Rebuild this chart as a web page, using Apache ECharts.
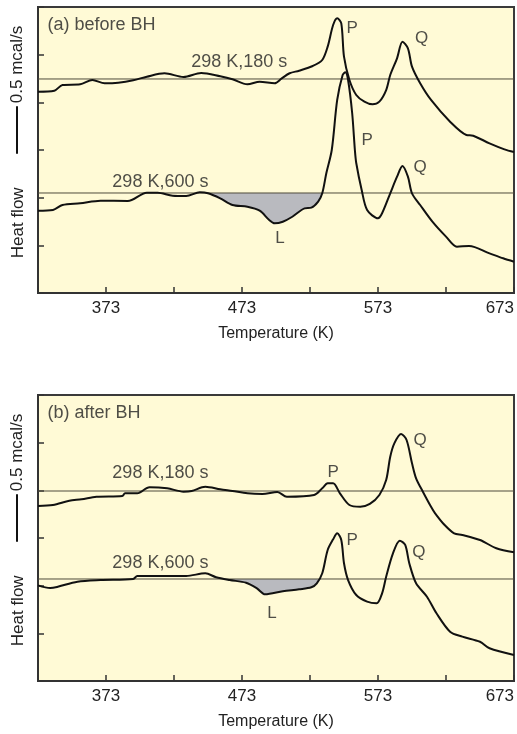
<!DOCTYPE html>
<html>
<head>
<meta charset="utf-8">
<script src="https://cdn.jsdelivr.net/npm/echarts@6/dist/echarts.min.js"></script>
<style>
  html, body { margin: 0; padding: 0; background: #ffffff; }
  #chart { width: 517px; height: 734px; }
</style>
</head>
<body>
<div id="chart"></div>
<script>
// Temperature axis (K)
const TEMP_MIN = 323;
const TEMP_MAX = 673;
const TEMP_STEP = 50;
const tempTickLabels = [373, 473, 573, 673];

// Heat-flow axis, mcal/s (arbitrary offset, one tick = 0.5 mcal/s)
const FLOW_MIN = 0;
const FLOW_MAX = 3;
const FLOW_STEP = 0.5;
const SCALE_BAR = [1.46, 1.96];   // 0.5 mcal/s scale bar

// (a) before BH — [temperature K, heat flow]
const beforeBase180 = 2.245;
const before180 = [
  [323, 2.112], [335, 2.122], [341, 2.182], [354, 2.189], [363, 2.234], [372, 2.200],
  [382, 2.206], [393, 2.231], [403, 2.269], [416, 2.305], [430, 2.266], [443, 2.308],
  [457, 2.273], [466, 2.242], [477, 2.189], [486, 2.217], [497, 2.200], [502, 2.248],
  [508, 2.305], [515, 2.332], [525, 2.381], [532, 2.444], [536, 2.584], [540, 2.811],
  [543, 2.882], [546, 2.829], [548, 2.479], [552, 2.234], [557, 2.077], [563, 2.007],
  [569, 1.979], [574, 2.007], [579, 2.129], [582, 2.287], [587, 2.462], [591, 2.636],
  [595, 2.567], [598, 2.374], [604, 2.200], [612, 2.025], [626, 1.797], [638, 1.657],
  [643, 1.650], [655, 1.570], [666, 1.507], [673, 1.479]
];
const beforeBase600 = 1.049;
const before600 = [
  [323, 0.863], [334, 0.871], [341, 0.923], [354, 0.941], [369, 0.968], [389, 0.965],
  [403, 1.052], [411, 1.052], [422, 1.021], [432, 1.018], [442, 1.056], [448, 1.046],
  [457, 0.993], [466, 0.923], [477, 0.905], [486, 0.863], [493, 0.766], [497, 0.731],
  [503, 0.748], [510, 0.800], [519, 0.888], [524, 0.895], [529, 0.958], [532, 1.046],
  [535, 1.256], [539, 1.500], [543, 2.025], [547, 2.287], [549, 2.315], [551, 2.234],
  [554, 1.888], [556, 1.500], [557, 1.364], [561, 1.080], [565, 0.871], [573, 0.784],
  [576, 0.836], [582, 1.046], [587, 1.220], [591, 1.332], [595, 1.220], [598, 1.046],
  [604, 0.923], [613, 0.748], [623, 0.591], [631, 0.486], [640, 0.493], [655, 0.416],
  [665, 0.364], [673, 0.328]
];
const beforeDip = [447, 532];

// (b) after BH
const afterBase180 = 1.993;
const after180 = [
  [323, 1.836], [334, 1.846], [346, 1.891], [355, 1.906], [366, 1.933], [385, 1.941],
  [387, 1.969], [396, 1.969], [405, 2.032], [418, 2.021], [430, 1.986], [436, 1.993],
  [446, 2.038], [457, 2.011], [466, 1.993], [477, 1.969], [488, 1.962], [499, 1.983],
  [506, 1.933], [526, 1.951], [532, 2.021], [536, 2.074], [540, 2.074], [545, 1.969],
  [552, 1.846], [560, 1.828], [567, 1.857], [574, 1.951], [579, 2.108], [582, 2.353],
  [585, 2.493], [590, 2.591], [594, 2.528], [598, 2.284], [601, 2.126], [606, 1.986],
  [612, 1.828], [615, 1.759], [622, 1.636], [629, 1.549], [635, 1.532], [648, 1.479],
  [660, 1.392], [673, 1.350]
];
const afterBase600 = 1.070;
const after600 = [
  [323, 1.003], [332, 0.975], [337, 0.986], [352, 1.042], [369, 1.059], [393, 1.070],
  [396, 1.101], [418, 1.101], [432, 1.101], [446, 1.130], [454, 1.088], [464, 1.059],
  [476, 1.031], [484, 0.972], [490, 0.909], [503, 0.941], [515, 0.962], [524, 0.983],
  [528, 1.025], [532, 1.130], [536, 1.374], [540, 1.486], [543, 1.549], [546, 1.479],
  [548, 1.235], [551, 1.059], [557, 0.902], [565, 0.832], [572, 0.815], [576, 0.920],
  [579, 1.094], [584, 1.339], [589, 1.472], [593, 1.427], [596, 1.235], [601, 1.025],
  [609, 0.884], [616, 0.710], [626, 0.517], [635, 0.465], [648, 0.412], [655, 0.343],
  [673, 0.273]
];
const afterDip = [459, 530];

// Text annotations: [temperature, heat flow, text]
const beforeNotes = [
  [471, 2.42, '298 K,180 s'], [413, 1.164, '298 K,600 s'],
  [554, 2.78, 'P'], [605, 2.675, 'Q'], [565, 1.605, 'P'], [604, 1.322, 'Q'], [501, 0.577, 'L']
];
const afterNotes = [
  [413, 2.182, '298 K,180 s'], [413, 1.238, '298 K,600 s'],
  [540, 2.192, 'P'], [604, 2.528, 'Q'], [554, 1.479, 'P'], [603, 1.353, 'Q'], [495, 0.713, 'L']
];
const panelTitles = ['(a) before BH', '(b) after BH'];
const TITLE_POS = [330, 2.81];

const FONT = '"Liberation Sans", Arial, Helvetica, sans-serif';
const INK = '#222222';
const PANEL_BG = '#fffad6';
const DIP_FILL = '#b9babf';

const grids = [
  { left: 38, right: 3, top: 7, height: 286 },
  { left: 38, right: 3, top: 395, height: 286 }
];

function xAxisFor(i) {
  return {
    gridIndex: i, type: 'value', min: TEMP_MIN, max: TEMP_MAX, interval: TEMP_STEP,
    name: 'Temperature (K)', nameLocation: 'middle', nameGap: 33,
    nameTextStyle: { fontFamily: FONT, fontSize: 16, color: INK },
    axisLine: { show: true, lineStyle: { color: '#333', width: 2 } },
    axisTick: { show: true, inside: true, length: 6, lineStyle: { color: '#333', width: 1.5 } },
    axisLabel: {
      show: true, margin: 7, fontFamily: FONT, fontSize: 17, color: INK,
      alignMaxLabel: 'right',
      formatter: v => (tempTickLabels.indexOf(Math.round(v)) >= 0 ? String(Math.round(v)) : '')
    },
    splitLine: { show: false }
  };
}
function yAxisFor(i) {
  return {
    gridIndex: i, type: 'value', min: FLOW_MIN, max: FLOW_MAX, interval: FLOW_STEP,
    axisLine: { show: true, lineStyle: { color: '#333', width: 2 } },
    axisTick: { show: true, inside: true, length: 6, lineStyle: { color: '#333', width: 1.5 } },
    axisLabel: { show: false },
    splitLine: { show: false }
  };
}

function dipFill(curve, base, range, i) {
  const pts = curve
    .filter(p => p[0] > range[0] && p[0] < range[1])
    .map(p => [p[0], Math.min(p[1], base)]);
  return {
    type: 'line', xAxisIndex: i, yAxisIndex: i, smooth: 0.3, symbol: 'none', silent: true,
    data: [[range[0], base]].concat(pts, [[range[1], base]]),
    lineStyle: { width: 0 },
    areaStyle: { color: DIP_FILL, opacity: 1, origin: base },
    z: 1
  };
}
function baseline(base, i) {
  return {
    type: 'line', xAxisIndex: i, yAxisIndex: i, symbol: 'none', silent: true,
    data: [[TEMP_MIN, base], [TEMP_MAX, base]],
    lineStyle: { color: '#4f4b3c', width: 1 }, z: 2
  };
}
function trace(curve, i) {
  return {
    type: 'line', xAxisIndex: i, yAxisIndex: i, smooth: 0.3, symbol: 'none', silent: true,
    data: curve, lineStyle: { color: '#111', width: 2 }, z: 3
  };
}
function notes(list, title, i) {
  const items = list.map(n => ({
    value: [n[0], n[1]], name: n[2],
    label: { fontSize: n[2].length > 1 ? 18 : 17 }
  }));
  items.push({
    value: TITLE_POS, name: title,
    label: { position: 'right', distance: 0, fontSize: 18 }
  });
  return {
    type: 'scatter', xAxisIndex: i, yAxisIndex: i, symbolSize: 0, silent: true,
    data: items,
    label: {
      show: true, position: 'inside', formatter: p => p.name,
      fontFamily: FONT, fontSize: 17, color: INK
    },
    z: 4
  };
}

const chart = echarts.init(document.getElementById('chart'), null, { renderer: 'canvas' });

chart.setOption({
  backgroundColor: '#ffffff',
  animation: false,
  grid: grids.map(g => Object.assign({
    show: true, backgroundColor: PANEL_BG, borderColor: '#3a3a3a', borderWidth: 2,
    containLabel: false, outerBoundsMode: 'none'
  }, g)),
  xAxis: [xAxisFor(0), xAxisFor(1)],
  yAxis: [yAxisFor(0), yAxisFor(1)],
  series: [
    dipFill(before600, beforeBase600, beforeDip, 0),
    baseline(beforeBase180, 0), baseline(beforeBase600, 0),
    trace(before180, 0), trace(before600, 0),
    notes(beforeNotes, panelTitles[0], 0),
    dipFill(after600, afterBase600, afterDip, 1),
    baseline(afterBase180, 1), baseline(afterBase600, 1),
    trace(after180, 1), trace(after600, 1),
    notes(afterNotes, panelTitles[1], 1)
  ]
});

// Vertical axis titles with the 0.5 mcal/s scale bar
const BAR_X = 17;
const side = [];
[0, 1].forEach(i => {
  const top = chart.convertToPixel({ gridIndex: i }, [TEMP_MIN, SCALE_BAR[1]])[1];
  const bottom = chart.convertToPixel({ gridIndex: i }, [TEMP_MIN, SCALE_BAR[0]])[1];
  side.push({
    type: 'line', silent: true,
    shape: { x1: BAR_X, y1: top, x2: BAR_X, y2: bottom },
    style: { stroke: '#111', lineWidth: 2 }
  });
  side.push({
    type: 'text', silent: true, x: BAR_X, y: top - 3, rotation: Math.PI / 2,
    style: {
      text: '0.5 mcal/s', font: '17px ' + FONT, fill: INK,
      align: 'left', verticalAlign: 'middle'
    }
  });
  side.push({
    type: 'text', silent: true, x: BAR_X + 1, y: bottom + 69, rotation: Math.PI / 2,
    style: {
      text: 'Heat flow', font: '17px ' + FONT, fill: INK,
      align: 'center', verticalAlign: 'middle'
    }
  });
});
chart.setOption({ graphic: side });
</script>
</body>
</html>
